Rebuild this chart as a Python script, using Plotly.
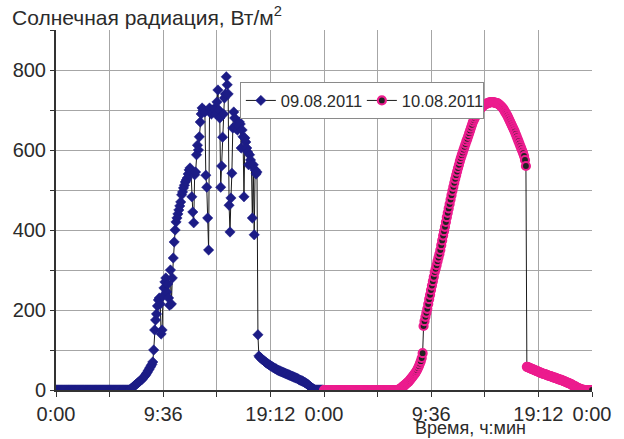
import plotly.graph_objects as go

# Sampling interval: 5 minutes (expressed in days); each row below = one hour
STEP_DAYS = 5 / 1440

# 09.08.2011 — solar radiation, W/m2, from 0:00 every 5 min
rad_0908 = [
    0, 0, 0, 0, 0, 0, 0, 0, 0, 0, 0, 0,                      # 0h
    0, 0, 0, 0, 0, 0, 0, 0, 0, 0, 0, 0,                      # 1h
    0, 0, 0, 0, 0, 0, 0, 0, 0, 0, 0, 0,                      # 2h
    0, 0, 0, 0, 0, 0, 0, 0, 0, 0, 0, 0,                      # 3h
    0, 0, 0, 0, 0, 0, 0, 0, 0, 0, 0, 0,                      # 4h
    0, 0, 0, 0, 0, 0, 0, 0, 0, 0, 0, 0,                      # 5h
    0, 0, 0, 0, 0, 0, 0, 0, 2, 4, 6, 8,                      # 6h
    10, 12, 14, 16, 18, 20, 22, 24, 26, 28, 31, 34,          # 7h
    37, 40, 44, 48, 52, 56, 60, 64, 70, 100, 150, 175,       # 8h
    190, 210, 225, 230, 215, 140, 150, 235, 255, 270, 280, 245,  # 9h
    265, 230, 212, 300, 215, 280, 330, 370, 400, 420, 430, 440,  # 10h
    450, 460, 470, 488, 495, 505, 512, 520, 525, 530, 540, 550,  # 11h
    555, 548, 483, 445, 418, 538, 545, 588, 612, 600, 633, 670,  # 12h
    690, 705, 698, 700, 695, 537, 507, 430, 350, 705, 700, 690,  # 13h
    700, 695, 703, 700, 690, 720, 750, 700, 680, 507, 560, 632,  # 14h
    690, 730, 740, 783, 763, 740, 462, 395, 480, 542, 655, 695,  # 15h
    680, 655, 663, 650, 660, 670, 665, 605, 650, 633, 483, 630,  # 16h
    620, 605, 595, 563, 588, 575, 563, 430, 563, 388, 550, 540,  # 17h
    545, 138, 85, 82, 80, 78, 76, 74, 72, 70, 68, 66,        # 18h
    65, 63, 62, 60, 59, 57, 56, 54, 53, 52, 50, 49,          # 19h
    48, 47, 46, 45, 44, 43, 42, 41, 40, 39, 38, 37,          # 20h
    36, 35, 34, 33, 32, 31, 30, 29, 28, 26, 25, 24,          # 21h
    23, 22, 21, 19, 18, 16, 15, 13, 11, 9, 7, 5,             # 22h
    4, 2, 1, 0, 0, 0, 0, 0, 0, 0, 0, 0,                      # 23h
]

# 10.08.2011 — solar radiation, W/m2, from 0:00 every 5 min (through 24:00)
rad_1008 = [
    0, 0, 0, 0, 0, 0, 0, 0, 0, 0, 0, 0,                      # 0h
    0, 0, 0, 0, 0, 0, 0, 0, 0, 0, 0, 0,                      # 1h
    0, 0, 0, 0, 0, 0, 0, 0, 0, 0, 0, 0,                      # 2h
    0, 0, 0, 0, 0, 0, 0, 0, 0, 0, 0, 0,                      # 3h
    0, 0, 0, 0, 0, 0, 0, 0, 0, 0, 0, 0,                      # 4h
    0, 0, 0, 0, 0, 0, 0, 0, 0, 0, 0, 0,                      # 5h
    0, 0, 0, 0, 0, 0, 0, 0, 0, 2, 3, 5,                      # 6h
    7, 9, 11, 13, 15, 17, 19, 21, 24, 27, 30, 33,            # 7h
    36, 39, 42, 46, 50, 55, 60, 66, 72, 80, 92, 160,         # 8h
    172, 183, 193, 203, 215, 227, 238, 250, 261, 272, 283, 295,  # 9h
    303, 312, 322, 331, 340, 350, 362, 374, 386, 397, 408, 420,  # 10h
    432, 443, 454, 465, 476, 487, 498, 508, 518, 528, 537, 546,  # 11h
    555, 563, 572, 580, 587, 594, 601, 608, 615, 622, 628, 635,  # 12h
    642, 649, 656, 663, 670, 675, 680, 685, 689, 693, 697, 700,  # 13h
    703, 706, 708, 710, 712, 714, 715, 716, 717, 718, 719, 719,  # 14h
    720, 720, 719, 719, 718, 717, 717, 716, 714, 712, 710, 708,  # 15h
    705, 702, 698, 694, 690, 686, 681, 676, 671, 666, 661, 656,  # 16h
    651, 646, 640, 634, 628, 622, 616, 610, 604, 598, 592, 585,  # 17h
    575, 560, 58, 57, 56, 55, 54, 53, 52, 51, 50, 49,        # 18h
    48, 47, 46, 45, 44, 43, 42, 41, 40, 40, 39, 38,          # 19h
    37, 36, 35, 35, 34, 33, 32, 31, 31, 30, 29, 28,          # 20h
    27, 26, 26, 25, 24, 23, 22, 21, 20, 19, 18, 17,          # 21h
    16, 15, 14, 12, 11, 10, 9, 7, 6, 5, 4, 3,                # 22h
    2, 1, 1, 0, 0, 0, 0, 0, 0, 0, 0, 0,                      # 23h
    0,                                                       # 24:00
]

series_names = ["09.08.2011", "10.08.2011"]
day_offsets = [0.0, 1.0]

x_tick_vals = [0.0, 0.2, 0.4, 0.6, 0.8, 1.0, 1.2, 1.4, 1.6, 1.8, 2.0]
x_tick_text = ["0:00", "", "9:36", "", "19:12", "0:00", "", "9:36", "", "19:12", "0:00"]
y_tick_vals = [0, 100, 200, 300, 400, 500, 600, 700, 800, 900]
y_tick_text = ["0", "", "200", "", "400", "", "600", "", "800", ""]

t_0908 = [day_offsets[0] + i * STEP_DAYS for i in range(len(rad_0908))]
t_1008 = [day_offsets[1] + i * STEP_DAYS for i in range(len(rad_1008))]

FONT = "Arial, 'Liberation Sans', sans-serif"
TXT = "#2b2b2b"
NAVY = "#1c1c86"
PINK = "#ec1c8e"

fig = go.Figure()
fig.add_trace(go.Scatter(
    x=t_0908, y=rad_0908, mode="lines+markers", name=series_names[0],
    line=dict(color="#1a1a1a", width=1),
    marker=dict(symbol="diamond", size=8, color=NAVY, line=dict(color=NAVY, width=0.5)),
))
fig.add_trace(go.Scatter(
    x=t_1008, y=rad_1008, mode="lines+markers", name=series_names[1],
    line=dict(color="#1a1a1a", width=1),
    marker=dict(symbol="circle", size=8, color="#222222", line=dict(color=PINK, width=2.2)),
))

fig.update_layout(
    width=624, height=439,
    margin=dict(l=56, r=32, t=30, b=49, autoexpand=False),
    paper_bgcolor="white", plot_bgcolor="white",
    font=dict(family=FONT, color=TXT, size=20),
    showlegend=True,
    legend=dict(
        orientation="h", x=0.343, y=0.855, xanchor="left", yanchor="top",
        bgcolor="white", bordercolor="#8a8a8a", borderwidth=1,
        font=dict(size=16.5, color=TXT), itemwidth=30, entrywidth=76,
    ),
    xaxis=dict(
        range=[0, 2], tickvals=x_tick_vals, ticktext=x_tick_text,
        showgrid=True, gridcolor="#a6a6a6", gridwidth=1,
        showline=True, linecolor="#333333", linewidth=1.5,
        ticks="outside", ticklen=5, tickcolor="#333333",
        zeroline=False, tickfont=dict(size=20, color=TXT), automargin=False,
    ),
    yaxis=dict(
        range=[0, 900], tickvals=y_tick_vals, ticktext=y_tick_text,
        showgrid=True, gridcolor="#a6a6a6", gridwidth=1,
        showline=True, linecolor="#333333", linewidth=2,
        ticks="outside", ticklen=4, tickcolor="#333333",
        zeroline=False, tickfont=dict(size=20, color=TXT), automargin=False,
    ),
    annotations=[
        dict(text="Солнечная радиация, Вт/м<sup>2</sup>", xref="paper", yref="paper",
             x=-0.086, y=1.04, xanchor="left", yanchor="middle", showarrow=False,
             font=dict(size=21, color=TXT)),
        dict(text="Время, ч:мин", xref="paper", yref="paper",
             x=0.881, y=-0.106, xanchor="right", yanchor="middle", showarrow=False,
             font=dict(size=18, color=TXT)),
    ],
)

# Remove the default 8 px page margin so the figure fills the window exactly.
fig.write_html(
    "out.html",
    config={"displayModeBar": False},
    post_script="document.body.style.margin='0';",
)
